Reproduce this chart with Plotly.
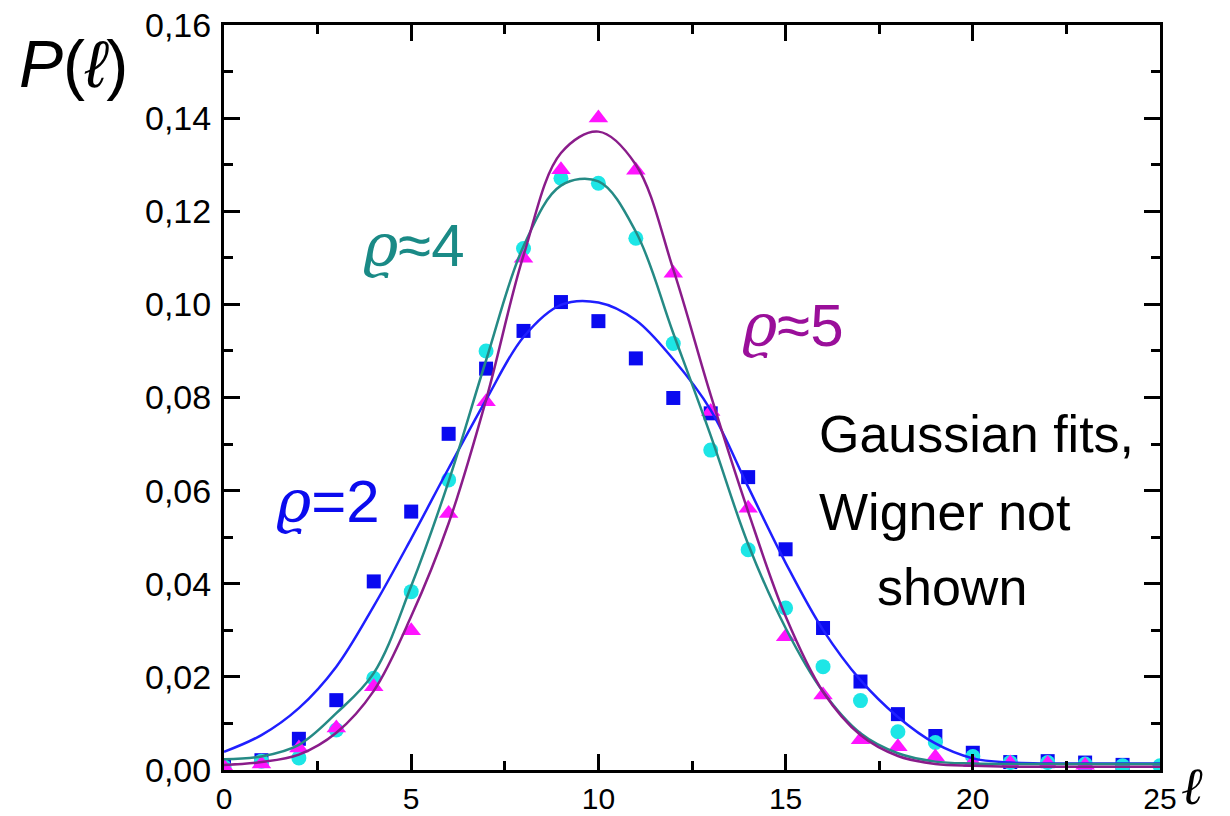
import plotly.graph_objects as go

# ---- data ----
ell = list(range(0, 26))

rho2_pts = [0.0010, 0.0021, 0.0067, 0.0150, 0.0405, 0.0555, 0.0722, 0.0862, 0.0943, 0.1005,
            0.0964, 0.0884, 0.0799, 0.0766, 0.0629, 0.0474, 0.0305, 0.0190, 0.0120, 0.0073,
            0.0037, 0.0017, 0.0019, 0.0016, 0.0011]
rho4_pts = [0.0007, 0.0019, 0.0026, 0.0086, 0.0197, 0.0383, 0.0623, 0.0900, 0.1120, 0.1271,
            0.1260, 0.1142, 0.0916, 0.0687, 0.0473, 0.0348, 0.0222, 0.0149, 0.0082, 0.0059,
            0.0029, 0.0016, 0.0016, 0.0013, 0.0009, 0.0009]
rho5_pts = [0.0007, 0.0013, 0.0047, 0.0090, 0.0179, 0.0299, 0.0551, 0.0791, 0.1099, 0.1289,
            0.1400, 0.1288, 0.1067, 0.0770, 0.0562, 0.0286, 0.0161, 0.0065, 0.0050, 0.0028,
            0.0016, 0.0015, 0.0014, 0.0010]

rho2_fit = [0.0039, 0.0075, 0.0133, 0.0222, 0.0352, 0.0497, 0.0648, 0.0795, 0.0930, 0.0999,
            0.1004, 0.0966, 0.0882, 0.0773, 0.0608, 0.0445, 0.0301, 0.0193, 0.0114, 0.0057,
            0.0025, 0.0016, 0.0014, 0.0014, 0.0014, 0.0014]
rho4_fit = [0.0023, 0.0029, 0.0054, 0.0122, 0.0208, 0.0395, 0.0620, 0.0880, 0.1125, 0.1255,
            0.1264, 0.1156, 0.0938, 0.0718, 0.0485, 0.0305, 0.0168, 0.0079, 0.0036, 0.0018,
            0.0014, 0.0013, 0.0013, 0.0013, 0.0013, 0.0013]
rho5_fit = [0.0011, 0.0017, 0.0033, 0.0080, 0.0170, 0.0330, 0.0530, 0.0795, 0.1105, 0.1325,
            0.1371, 0.1300, 0.1075, 0.0805, 0.0555, 0.0330, 0.0168, 0.0075, 0.0030, 0.0013,
            0.0009, 0.0007, 0.0007, 0.0007, 0.0007, 0.0007]

y_ticks = [0.00, 0.02, 0.04, 0.06, 0.08, 0.10, 0.12, 0.14, 0.16]
x_ticks = [0, 5, 10, 15, 20, 25]

BLUE_M = "#0a0af0"
BLUE_L = "#1f1fff"
CYAN_M = "#1de6e6"
TEAL_L = "#258a85"
MAG_M = "#ff14ff"
PURP_L = "#8a1c8a"

fig = go.Figure()

fig.add_trace(go.Scatter(x=ell[:len(rho2_pts)], y=rho2_pts, mode="markers",
                         marker=dict(symbol="square", size=14, color=BLUE_M), showlegend=False))
fig.add_trace(go.Scatter(x=ell[:len(rho4_pts)], y=rho4_pts, mode="markers",
                         marker=dict(symbol="circle", size=15, color=CYAN_M), showlegend=False))
fig.add_trace(go.Scatter(x=ell[:len(rho5_pts)], y=rho5_pts, mode="markers",
                         marker=dict(symbol="triangle-up", size=17, color=MAG_M), showlegend=False))

fig.add_trace(go.Scatter(x=ell, y=rho2_fit, mode="lines", line=dict(color=BLUE_L, width=2.5, shape="spline"),
                         showlegend=False))
fig.add_trace(go.Scatter(x=ell, y=rho4_fit, mode="lines", line=dict(color=TEAL_L, width=2.5, shape="spline"),
                         showlegend=False))
fig.add_trace(go.Scatter(x=ell, y=rho5_fit, mode="lines", line=dict(color=PURP_L, width=2.5, shape="spline"),
                         showlegend=False))

FONT = "Liberation Sans, Arial, sans-serif"
RHO = '<span style="font-family:DejaVu Serif"><i>ϱ</i></span>'

annots = [
    dict(x=-0.161, y=0.947, xref="paper", yref="paper", xanchor="center", yanchor="middle",
         text="<i>P</i>(<i>ℓ</i>)", font=dict(size=66, color="black", family=FONT), showarrow=False),
    dict(x=1.034, y=-0.022, xref="paper", yref="paper", xanchor="center", yanchor="middle",
         text="<i>ℓ</i>", font=dict(size=52, color="black", family="DejaVu Serif"), showarrow=False),
    dict(x=5.08, y=0.1128, text=RHO + "≈4", font=dict(size=60, color="#1a8a86", family=FONT),
         showarrow=False, xanchor="center", yanchor="middle"),
    dict(x=15.19, y=0.0955, text=RHO + "≈5", font=dict(size=60, color="#9a0f9a", family=FONT),
         showarrow=False, xanchor="center", yanchor="middle"),
    dict(x=2.79, y=0.0578, text=RHO + "=2", font=dict(size=60, color="#0b0bee", family=FONT),
         showarrow=False, xanchor="center", yanchor="middle"),
    dict(x=15.85, y=0.0722, text="Gaussian fits,", xanchor="left", yanchor="middle",
         font=dict(size=52, color="black", family=FONT), showarrow=False),
    dict(x=15.85, y=0.0555, text="Wigner not", xanchor="left", yanchor="middle",
         font=dict(size=52, color="black", family=FONT), showarrow=False),
    dict(x=17.4, y=0.0393, text="shown", xanchor="left", yanchor="middle",
         font=dict(size=52, color="black", family=FONT), showarrow=False),
]

# page body has an 8px default margin, so the figure starts at (8, 8)
fig.update_layout(
    width=1222, height=808,
    margin=dict(l=216, r=70, t=17, b=46),
    paper_bgcolor="white", plot_bgcolor="white",
    separators=",.",
    annotations=annots,
    font=dict(family=FONT, color="black"),
)

fig.update_xaxes(
    range=[0, 25], tickvals=x_ticks, ticktext=[str(v) for v in x_ticks],
    showgrid=False, zeroline=False, automargin=False, ticklabeloverflow="allow",
    showline=True, linecolor="black", linewidth=3, mirror="allticks",
    ticks="inside", ticklen=16, tickwidth=2.5, tickcolor="black",
    minor=dict(ticks="inside", ticklen=9, tickwidth=2.5, tickcolor="black", dtick=2.5, tick0=0),
    tickfont=dict(size=30, family=FONT, color="black"),
    ticklabelstandoff=0,
)
fig.update_yaxes(
    range=[0, 0.16], tickvals=y_ticks, tickformat=".2f",
    showgrid=False, zeroline=False, automargin=False, ticklabeloverflow="allow",
    showline=True, linecolor="black", linewidth=3, mirror="allticks",
    ticks="inside", ticklen=16, tickwidth=2.5, tickcolor="black",
    minor=dict(ticks="inside", ticklen=9, tickwidth=2.5, tickcolor="black", dtick=0.01, tick0=0),
    tickfont=dict(size=34, family=FONT, color="black"),
    ticklabelstandoff=3,
)

fig.write_html("out.html")
